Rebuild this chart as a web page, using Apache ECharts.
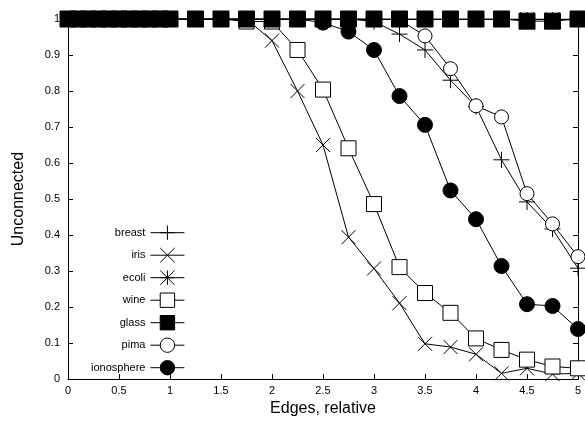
<!DOCTYPE html>
<html>
<head>
<meta charset="utf-8">
<script src="https://cdn.jsdelivr.net/npm/echarts@6/dist/echarts.min.js"></script>
<style>
  html, body { margin: 0; padding: 0; background: #fff; }
  #chart { width: 585px; height: 422px; }
</style>
</head>
<body>
<div id="chart"></div>
<script>
// x positions (edges, relative)
var xs = [0, 0.1, 0.2, 0.3, 0.4, 0.5, 0.6, 0.7, 0.8, 0.9, 1,
          1.25, 1.5, 1.75, 2, 2.25, 2.5, 2.75, 3, 3.25, 3.5, 3.75, 4, 4.25, 4.5, 4.75, 5];

// unconnected fraction per dataset
var breast = [1, 1, 1, 1, 1, 1, 1, 1, 1, 1, 1,
              1, 1, 1, 1, 1, 1, 1, 0.993, 0.958, 0.914, 0.83, 0.757, 0.609, 0.492, 0.417, 0.308];
var iris = [1, 1, 1, 1, 1, 1, 1, 1, 1, 1, 1,
            1, 1, 1, 0.94, 0.80, 0.65, 0.394, 0.307, 0.211, 0.098, 0.089, 0.069, 0.016, 0.03, 0.014, 0.016];
var ecoli = [1, 1, 1, 1, 1, 1, 1, 1, 1, 1, 1,
             1, 1, 1, 1, 1, 1, 1, 1, 1, 1, 1, 1, 1, 1, 1, 1];
var wine = [1, 1, 1, 1, 1, 1, 1, 1, 1, 1, 1,
            1, 1, 0.993, 0.993, 0.914, 0.804, 0.641, 0.486, 0.311, 0.239, 0.184, 0.113, 0.081, 0.054, 0.035, 0.03];
var glass = [1, 1, 1, 1, 1, 1, 1, 1, 1, 1, 1,
             1, 1, 1, 1, 1, 1, 1, 1, 1, 1, 1, 1, 1, 0.994, 0.994, 1];
var pima = [1, 1, 1, 1, 1, 1, 1, 1, 1, 1, 1,
            1, 1, 1, 1, 1, 1, 1, 1, 0.998, 0.953, 0.862, 0.759, 0.728, 0.515, 0.431, 0.34];
var ionosphere = [1, 1, 1, 1, 1, 1, 1, 1, 1, 1, 1,
                  1, 1, 1, 1, 1, 0.99, 0.965, 0.914, 0.786, 0.706, 0.524, 0.444, 0.314, 0.208, 0.203, 0.139];

var names = ["breast", "iris", "ecoli", "wine", "glass", "pima", "ionosphere"];

(function () {
  var myChart = echarts.init(document.getElementById("chart"), null, { renderer: "canvas" });

  function pairs(ys) {
    return xs.map(function (x, i) { return [x, ys[i]]; });
  }

  // marker shapes, gnuplot style
  var plus = "path://M0,-8L0,8M-8,0L8,0";
  var cross = "path://M-8,-8L8,8M-8,8L8,-8";
  var star = "path://M-8,-8L8,8M-8,8L8,-8M0,-8L0,8M-8,0L8,0";

  function line(name, ys, symbol, size, fill, z) {
    return {
      name: name,
      type: "line",
      z: z || 2,
      data: pairs(ys),
      symbol: symbol,
      symbolSize: size,
      showAllSymbol: true,
      lineStyle: { color: "#000", width: 1 },
      itemStyle: { color: fill, borderColor: "#000", borderWidth: 1 },
      emphasis: { disabled: true }
    };
  }

  var font = "Liberation Sans, Arial, Helvetica, sans-serif";
  // border line, kept on its own side (no onZero jump)
  var border = { show: true, onZero: false, lineStyle: { color: "#000", width: 1 } };
  var tick = { show: true, inside: true, length: 5, lineStyle: { color: "#000", width: 1 } };

  var option = {
    animation: false,
    textStyle: { fontFamily: font },
    grid: { left: 68, right: 7, top: 19, bottom: 39 },
    legend: {
      orient: "vertical",
      left: 86,
      top: 220,
      align: "right",
      itemWidth: 34,
      itemHeight: 18,
      itemGap: 7.1,
      lineStyle: { width: 1 },
      itemStyle: { borderWidth: 1 },
      textStyle: { fontSize: 11, color: "#000", fontFamily: font },
      data: names
    },
    xAxis: [
      {
        type: "value",
        position: "bottom",
        min: 0,
        max: 5,
        interval: 0.5,
        name: "Edges, relative",
        nameLocation: "middle",
        nameGap: 16,
        nameTextStyle: { fontSize: 16, color: "#000" },
        axisLine: border,
        axisTick: tick,
        axisLabel: { fontSize: 11, color: "#000", margin: 6 },
        splitLine: { show: false }
      },
      {
        type: "value",
        position: "top",
        min: 0,
        max: 5,
        interval: 0.5,
        axisLine: border,
        axisTick: tick,
        axisLabel: { show: false },
        splitLine: { show: false }
      }
    ],
    yAxis: [
      {
        type: "value",
        position: "left",
        min: 0,
        max: 1,
        interval: 0.1,
        name: "Unconnected",
        nameLocation: "middle",
        nameGap: 41,
        nameTextStyle: { fontSize: 16, color: "#000" },
        axisLine: border,
        axisTick: tick,
        axisLabel: { fontSize: 11, color: "#000", margin: 8 },
        splitLine: { show: false }
      },
      {
        type: "value",
        position: "right",
        min: 0,
        max: 1,
        interval: 0.1,
        axisLine: border,
        axisTick: tick,
        axisLabel: { show: false },
        splitLine: { show: false }
      }
    ],
    series: [
      line("breast", breast, plus, 16, "#000"),
      line("iris", iris, cross, 14, "#000"),
      line("ecoli", ecoli, star, 14, "#000"),
      line("wine", wine, "rect", 15, "#fff"),
      line("glass", glass, "rect", 16, "#000", 4),
      line("pima", pima, "circle", 14, "#fff"),
      line("ionosphere", ionosphere, "circle", 15, "#000")
    ]
  };

  myChart.setOption(option);
  window.addEventListener("resize", function () {
    myChart.resize();
  });
})();
</script>
</body>
</html>
